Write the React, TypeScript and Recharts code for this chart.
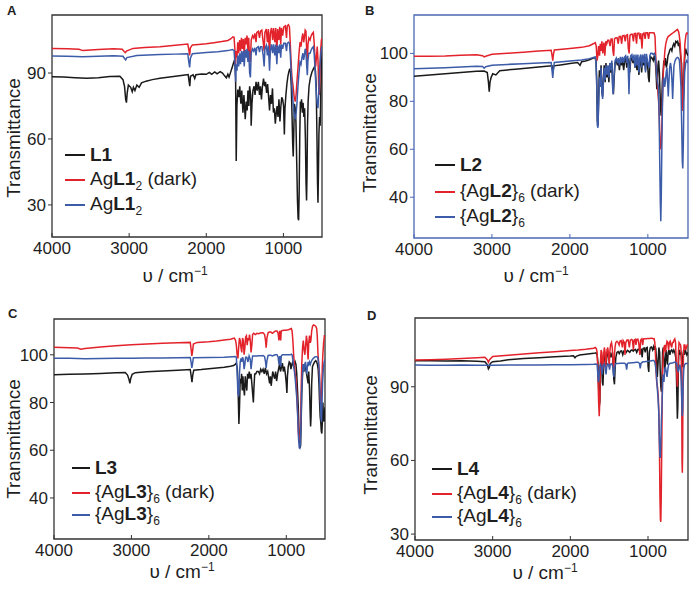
import React from 'react'
import { LineChart, Line, XAxis, YAxis, ReferenceArea } from 'recharts'

type Pt = [number, number]

const X_TICKS = [4000, 3000, 2000, 1000]

// panel A
const L1: Pt[] = [[4000,88.3],[3850,88.2],[3700,87.9],[3550,87.6],[3400,87.8],[3250,88.4],[3120,88.5],[3080,87],[3060,84],[3045,78],[3035,76.5],[3025,81],[3010,84.5],[2980,83.5],[2960,81.5],[2945,83.5],[2925,82],[2900,84.5],[2870,83.5],[2840,85.5],[2780,86.3],[2700,87],[2600,87.6],[2450,88.3],[2300,89],[2235,89.3],[2222,86],[2214,84],[2205,88.5],[2170,89.2],[2150,87.5],[2135,89.2],[2060,89.6],[2000,89.4],[1960,90.3],[1930,89.4],[1890,90.5],[1860,89.6],[1820,90.6],[1790,90],[1760,88.6],[1740,87.8],[1720,89.5],[1705,88.2],[1685,90.3],[1665,92.5],[1645,94.8],[1630,96.3],[1620,88],[1612,50],[1603,75],[1592,82.5],[1578,79],[1566,84],[1552,76],[1540,82],[1525,72],[1512,80],[1495,69],[1482,77],[1470,73],[1460,82],[1448,75],[1438,84],[1425,80],[1418,66],[1408,76],[1395,82],[1380,84],[1368,80],[1355,86],[1340,82],[1325,86],[1310,80],[1298,84],[1285,78],[1272,84],[1258,87.5],[1245,84],[1232,86],[1218,81],[1205,85],[1192,79],[1180,73],[1168,80],[1155,76],[1142,83],[1130,72],[1118,74],[1105,67],[1093,72],[1082,75],[1070,70],[1058,78],[1045,68],[1035,74],[1022,79],[1010,78],[998,75],[988,62],[980,74],[968,80],[955,85],[942,88.5],[930,90.5],[918,92],[908,90.5],[898,84],[888,70],[880,58],[873,52],[866,62],[858,76],[848,74],[838,68],[828,50],[818,32],[810,24],[803,23],[796,36],[788,62],[780,77],[772,74],[765,78],[755,72],[745,76.5],[735,70],[725,74],[715,60],[707,40],[700,32],[694,45],[688,66],[680,77],[668,84],[650,88],[630,90.5],[610,92],[595,93],[585,91],[575,84],[565,60],[558,40],[552,31],[546,45],[540,62],[532,70],[524,66],[516,80],[508,92],[500,100]]
const AgL1dark: Pt[] = [[4000,101.2],[3800,101],[3650,100.8],[3600,100.2],[3550,100.4],[3400,100.7],[3200,101],[3090,100.8],[3065,99.8],[3050,99.3],[3035,100],[2950,101.2],[2800,101.6],[2600,102],[2400,102.6],[2240,103.2],[2226,100.5],[2216,98],[2206,101.5],[2180,102.8],[2100,103],[2000,103.3],[1900,103.8],[1800,104.3],[1720,104.8],[1680,105.6],[1655,106.5],[1640,106.3],[1630,101],[1622,94],[1612,100],[1602,97],[1592,104],[1580,99],[1568,105],[1556,100],[1544,106],[1532,101],[1520,105.5],[1508,98],[1496,106],[1484,103],[1472,107],[1460,100],[1450,106],[1438,96],[1428,95],[1418,105],[1400,107],[1385,106],[1370,108],[1355,104],[1345,108.5],[1325,109],[1310,106],[1298,109],[1280,109.5],[1262,104],[1250,100],[1240,108.5],[1222,110],[1208,104],[1195,110],[1180,97],[1170,108],[1155,110.5],[1140,105],[1128,110.5],[1112,104],[1100,110.5],[1085,99],[1075,110],[1060,105],[1048,111],[1035,103],[1025,110.5],[1010,107],[995,111],[975,111.5],[960,106],[950,111.5],[935,112],[922,111],[912,104],[902,96],[890,88],[875,84],[860,79],[848,77],[836,80],[825,86],[812,92],[798,99],[785,104],[772,102],[760,106],[748,108],[738,104],[728,106],[718,109.5],[708,109],[698,100],[690,95],[682,103],[670,106],[655,105],[640,107],[625,108],[612,108.5],[602,104],[592,98],[582,93],[572,97],[562,102],[552,96],[543,84],[536,80],[528,88],[518,100],[508,105],[500,106]]
const AgL1: Pt[] = [[4000,97.7],[3800,97.6],[3600,97.4],[3400,97.6],[3200,97.9],[3080,97.6],[3060,96.6],[3045,96],[3030,97],[2900,98],[2600,98.4],[2400,98.6],[2240,98.8],[2226,95],[2216,92.6],[2206,96.8],[2180,98.8],[2000,99.3],[1850,99.7],[1720,100.2],[1660,100.7],[1640,100.3],[1630,95],[1620,86],[1612,94],[1602,91],[1592,98],[1580,93],[1568,99],[1556,94],[1544,100],[1532,95],[1520,100],[1508,93],[1496,100.5],[1484,97],[1472,101],[1460,95],[1450,100],[1438,90],[1428,88],[1418,99],[1400,101],[1385,100],[1370,101.5],[1355,98],[1345,101.5],[1325,102],[1310,99.5],[1298,102],[1280,102],[1262,98],[1250,93],[1240,101],[1222,102.5],[1208,98],[1195,102.5],[1180,91],[1170,100],[1155,103],[1140,99],[1128,103],[1112,98],[1100,103],[1085,94],[1075,102.5],[1060,99],[1048,103],[1035,97],[1025,103],[1010,101],[995,103.5],[975,103.5],[960,100],[950,103.5],[935,104],[922,103.5],[912,99],[902,92],[890,84],[878,78],[866,73],[855,70],[845,69],[835,72],[825,76],[812,84],[798,90],[785,95],[772,94],[760,97],[748,99],[738,96],[728,98],[718,101],[708,100],[698,93],[690,89],[682,96],[670,99],[655,99],[640,100.5],[625,101.5],[612,102],[602,99],[592,93],[582,86],[572,80],[562,76],[552,74],[543,80],[536,86],[528,93],[518,98],[508,101],[500,102]]

// panel B
const L2: Pt[] = [[4000,90.5],[3800,91],[3600,91.5],[3400,92],[3200,92.5],[3100,92.6],[3060,92],[3045,88],[3035,84],[3025,88],[3010,90],[2990,91.5],[2950,91],[2900,92.8],[2700,93.4],[2500,94],[2300,94.6],[2230,94.8],[2218,92],[2206,94.8],[2100,95.3],[2000,95.8],[1900,96.2],[1870,95],[1850,96.5],[1800,96.8],[1750,97.3],[1700,98],[1680,98.3],[1665,97],[1655,88],[1648,72],[1640,70],[1632,80],[1622,93],[1610,88],[1600,95],[1590,84],[1580,82],[1570,90],[1560,95],[1548,88],[1538,96],[1525,90],[1512,94],[1500,88],[1488,96],[1475,92],[1462,96],[1450,86],[1442,83],[1432,90],[1420,96],[1405,97],[1390,95],[1378,97],[1365,93],[1352,97.5],[1338,95],[1325,97],[1310,93],[1298,97],[1285,98],[1270,94],[1258,97],[1245,97.5],[1232,92],[1220,97],[1205,98],[1190,96],[1178,98],[1165,94],[1152,98],[1140,93],[1128,97.5],[1115,91],[1105,96],[1092,98],[1080,92],[1068,97.5],[1055,95],[1042,98],[1030,93],[1018,98],[1005,96],[993,90],[983,88],[975,96],[962,98.5],[945,98],[930,97],[918,99],[905,97],[895,92],[885,85],[878,88],[870,95],[862,97],[852,92],[845,85],[838,78],[830,74],[822,80],[814,88],[805,92],[795,97],[785,95],[775,98],[762,94],[752,96],[742,99],[730,100],[718,101.5],[705,102],[692,101],[680,103],[668,104],[655,103],[642,105],[630,104.5],[618,105],[608,103],[598,104.5],[588,102],[578,98],[568,96],[560,88],[553,80],[546,82],[538,90],[528,98],[515,102],[500,100],[485,99]]
const AgL2dark: Pt[] = [[4000,98.8],[3800,98.8],[3600,98.9],[3400,99.2],[3200,99.4],[3120,99],[3100,98.5],[3080,98.8],[3000,99.6],[2800,100],[2600,100.5],[2400,101],[2240,101.3],[2228,99],[2220,97],[2212,99.5],[2200,101.4],[2000,102],[1850,102.5],[1750,103.2],[1700,104],[1675,104.5],[1662,103],[1652,97],[1642,99],[1632,103],[1620,99],[1610,104],[1600,101],[1590,105],[1578,100],[1565,104.5],[1552,99],[1540,105],[1528,104],[1515,105.5],[1500,105.5],[1485,103],[1472,106],[1458,106],[1448,101],[1438,99],[1428,106],[1410,106.5],[1395,106.5],[1380,104],[1368,107],[1350,107],[1336,104],[1325,107.3],[1305,107.5],[1290,105],[1280,107.5],[1262,107.8],[1250,102],[1240,100],[1230,107.5],[1215,108],[1200,108],[1185,105],[1175,108.2],[1160,108.3],[1145,104],[1135,108.3],[1115,108.4],[1100,106],[1090,108.4],[1075,102],[1065,108],[1050,108.5],[1035,106],[1025,108.6],[1005,108.6],[990,106],[980,108.6],[960,108.6],[940,108.6],[920,108.5],[908,107],[898,98],[890,92],[880,90],[872,84],[862,80],[852,72],[845,64],[838,60],[830,61],[822,68],[812,82],[802,92],[792,96],[782,101],[770,104],[755,106],[740,107],[720,107.5],[700,108],[680,108.5],[660,109],[640,109.5],[620,110],[605,109],[595,107],[585,104],[575,98],[565,88],[557,80],[550,76],[543,82],[535,95],[525,104],[510,108],[500,108.5],[485,108]]
const AgL2: Pt[] = [[4000,93.6],[3800,93.8],[3600,94],[3400,94.3],[3200,94.6],[3120,94.5],[3100,93.8],[3080,94.4],[3000,95],[2800,95.4],[2600,95.7],[2400,96],[2240,96.2],[2228,92.5],[2220,89.8],[2212,93],[2200,96.2],[2000,96.8],[1850,97.2],[1750,97.8],[1700,98.3],[1675,98.5],[1665,96],[1655,85],[1648,70],[1640,69],[1632,78],[1622,90],[1610,86],[1600,94],[1590,84],[1580,81],[1570,88],[1560,94],[1548,89],[1538,95],[1525,91],[1512,95],[1500,90],[1488,96],[1475,93],[1462,97],[1452,86],[1445,83],[1435,90],[1420,97],[1405,98],[1390,96],[1378,98],[1365,95],[1352,98.5],[1338,96],[1325,98.5],[1310,96],[1298,98.5],[1285,99],[1270,96],[1258,99],[1248,90],[1242,83],[1235,92],[1220,99],[1205,99.5],[1190,97],[1178,99.5],[1165,94],[1152,99.5],[1140,95],[1128,99.5],[1115,92],[1105,98],[1092,99.5],[1080,94],[1068,99.5],[1055,96],[1042,99.8],[1030,92],[1018,99.8],[1005,97],[993,95],[983,94],[975,99],[962,100],[945,100],[930,99.5],[918,100],[905,99],[895,95],[885,90],[875,88],[865,86],[855,74],[848,55],[840,38],[834,30],[828,40],[820,62],[812,80],[804,88],[795,90],[785,86],[775,88],[765,92],[755,94],[745,87],[738,82],[730,88],[720,94],[710,96],[700,94],[690,88],[682,81],[674,88],[665,95],[650,97],[635,98],[620,98.3],[605,98],[595,97],[585,92],[575,86],[565,68],[558,55],[552,52],[545,62],[538,80],[528,92],[515,96],[500,97],[485,96]]

// panel C
const L3: Pt[] = [[4000,91.6],[3800,91.8],[3600,92],[3400,92.2],[3200,92.5],[3080,92.6],[3050,91.5],[3030,89.5],[3020,88],[3010,90],[2990,91.8],[2950,92.5],[2800,92.9],[2600,93.2],[2400,93.5],[2240,93.8],[2228,91],[2218,88.5],[2208,91.5],[2195,93.5],[2100,93.8],[2000,94.2],[1900,94.5],[1800,94.8],[1720,95.2],[1680,95.5],[1660,96],[1645,96.5],[1632,94],[1622,85],[1612,71],[1604,78],[1595,90],[1585,88],[1577,92],[1568,85],[1560,91],[1550,86],[1540,83],[1530,91],[1520,88],[1510,85],[1500,92],[1490,90],[1478,93],[1465,90],[1455,92],[1445,88],[1435,84],[1425,80],[1418,86],[1408,92],[1395,92],[1380,93],[1360,93],[1345,92],[1330,94],[1315,93],[1300,94],[1285,92],[1270,94.5],[1255,92],[1240,93],[1225,90],[1215,88],[1205,91],[1195,87],[1185,90],[1175,93],[1160,91],[1150,90],[1138,93],[1125,89],[1112,92],[1100,94],[1088,96],[1075,93],[1062,95],[1050,96.5],[1038,93],[1025,95],[1012,92],[1000,88],[992,84],[985,91],[975,95],[962,97],[950,96.5],[940,94],[928,96],[915,97],[905,95],[895,96],[885,97],[875,96],[865,92],[855,85],[845,78],[838,70],[830,65],[822,61],[815,62],[808,72],[800,84],[790,92],[780,96],[770,93],[760,96],[748,94],[738,92],[728,90],[718,88],[710,93],[700,86],[692,76],[686,70],[680,74],[672,88],[662,95],[650,96],[635,97],[620,97.5],[608,97],[598,96],[588,94],[578,88],[570,80],[562,74],[555,72],[548,68],[541,67],[534,72],[527,80],[520,74],[512,72],[505,76],[500,78]]
const AgL3dark: Pt[] = [[4000,103.2],[3800,103],[3700,102.8],[3650,102.3],[3600,102.6],[3400,103.3],[3200,103.8],[3000,104.2],[2800,104.5],[2600,104.8],[2400,105],[2240,105.2],[2228,102],[2220,99.5],[2212,101],[2200,104.5],[2150,105.2],[2000,105.5],[1900,105.8],[1800,106.2],[1720,106.5],[1690,106.8],[1670,107],[1655,106],[1645,104],[1635,100],[1625,98.5],[1615,103],[1605,107],[1595,106],[1585,103],[1575,101],[1565,107],[1555,106],[1545,100],[1535,103],[1525,107.5],[1515,108],[1505,104],[1495,107],[1485,106],[1475,108.5],[1465,106],[1455,101],[1445,104],[1435,108.5],[1420,109],[1400,108.5],[1380,109],[1360,108.8],[1340,109],[1320,109.2],[1300,109.2],[1280,108.5],[1268,106],[1260,103],[1250,107],[1235,109.2],[1220,109.5],[1200,109.5],[1180,109],[1160,109.5],[1140,110],[1120,110],[1105,109],[1095,106],[1085,110],[1072,106],[1065,110],[1050,110.2],[1030,110.3],[1010,110.3],[990,110.4],[970,110.5],[950,110.8],[935,111],[925,110],[915,106],[905,100],[895,96],[885,92],[875,90],[862,82],[852,75],[845,68],[838,65],[830,64],[822,66],[815,72],[808,85],[800,96],[790,103],[780,106],[770,102],[760,100],[750,104],[740,108],[732,106],[725,101],[718,98],[710,105],[700,108],[690,105],[682,106],[672,110],[660,112],[648,112.5],[635,112.3],[620,112],[608,111],[600,108],[590,100],[580,96],[572,92],[565,86],[558,80],[550,79],[542,86],[535,95],[528,100],[518,105],[508,108],[500,108]]
const AgL3: Pt[] = [[4000,98.6],[3800,98.5],[3600,98.3],[3400,98.4],[3200,98.5],[3000,98.6],[2800,98.7],[2600,98.7],[2400,98.8],[2240,98.9],[2228,96.5],[2220,94.5],[2212,96],[2200,98.8],[2000,98.9],[1800,99],[1700,99.2],[1660,99.3],[1645,99],[1635,93],[1625,84],[1615,82.5],[1605,92],[1595,97],[1585,98.5],[1575,97],[1565,99],[1555,98],[1545,94],[1535,96],[1525,99],[1510,99],[1495,97],[1480,99.5],[1465,98],[1455,94],[1445,97],[1435,99.5],[1420,99.5],[1400,99.5],[1380,99.5],[1360,99.6],[1340,99.6],[1320,99.6],[1300,99.7],[1280,99.2],[1268,97],[1260,94.5],[1250,97.5],[1235,99.7],[1220,99.8],[1200,99.8],[1180,99.5],[1160,99.8],[1140,100],[1120,100],[1105,99],[1095,96],[1085,99.5],[1072,95],[1065,99.5],[1050,100],[1030,100],[1010,100],[990,100],[970,100],[950,100],[935,100.3],[925,100],[915,98],[905,95],[895,93],[885,90],[875,86],[865,82],[855,76],[848,70],[840,64],[832,61],[825,60.8],[818,63],[810,72],[802,84],[792,92],[782,96],[772,93],[762,96],[752,97],[742,94],[735,92],[728,95],[718,97],[708,96],[700,97],[690,96],[680,97],[665,98],[650,98.5],[635,99],[620,99.2],[605,99.2],[595,99],[585,97],[575,93],[567,86],[560,80],[552,74],[546,72],[540,78],[532,88],[522,94],[510,97],[500,98]]

// panel D
const L4: Pt[] = [[4000,100.6],[3800,100.6],[3600,100.5],[3400,100.6],[3200,100.4],[3100,100.2],[3070,99],[3055,97.3],[3045,97.8],[3030,99.5],[3000,100.2],[2900,100.5],[2800,101],[2600,101.5],[2400,101.8],[2200,102.2],[2000,102.5],[1960,102.6],[1940,101.8],[1925,102.4],[1880,102.9],[1800,103.2],[1750,103.4],[1700,103.6],[1670,103.8],[1655,103],[1645,100],[1636,90],[1628,82],[1620,84],[1612,98],[1604,103],[1595,100],[1588,92],[1580,90.5],[1572,98],[1562,102],[1550,103],[1540,99],[1530,102],[1520,104],[1510,103],[1500,101],[1490,104],[1478,102],[1468,103],[1458,104],[1448,98],[1440,93],[1432,91],[1424,97],[1414,102],[1400,104],[1385,104.3],[1370,103.5],[1355,104.5],[1340,104.6],[1325,103],[1310,104.6],[1295,104.8],[1280,104],[1265,104.8],[1250,104.5],[1235,104],[1220,104.8],[1205,105],[1190,104.5],[1175,105],[1160,105.2],[1145,104],[1130,105.2],[1115,105.3],[1100,104],[1088,105.5],[1075,102],[1065,105.5],[1050,105.8],[1035,104],[1025,105.8],[1010,106],[998,98],[990,96],[982,104],[970,106],[955,106.2],[940,105],[928,106.3],[918,105],[910,106.5],[900,105.5],[890,101],[880,94],[870,100],[860,106],[850,104],[842,96],[835,90],[828,88],[820,92],[812,104],[805,106],[795,102],[785,96],[776,100],[768,105],[760,102],[750,99],[740,104],[730,105],[718,103],[708,104.5],[695,105],[680,104],[668,105],[655,104],[643,102],[635,96],[628,86],[622,77],[616,82],[610,96],[603,104],[595,105],[585,103],[575,104],[565,100],[558,98],[550,103],[540,105],[530,103],[520,105],[510,104],[500,103],[485,104]]
const AgL4dark: Pt[] = [[4000,100.9],[3800,101],[3600,101.2],[3400,101.5],[3200,101.8],[3100,102],[3070,101],[3055,100],[3040,101],[3000,102.3],[2800,102.8],[2600,103.3],[2400,103.8],[2200,104.3],[2000,104.8],[1900,105],[1800,105.3],[1750,105.5],[1700,105.7],[1680,106],[1665,105.5],[1655,104],[1645,96],[1636,84],[1628,78],[1620,85],[1612,100],[1604,105],[1595,104],[1588,98],[1580,97],[1572,103],[1562,106],[1552,104],[1545,98],[1538,101],[1528,105],[1518,106],[1508,103],[1500,98],[1492,104],[1482,107],[1470,108],[1460,106],[1450,100],[1442,97],[1435,101],[1425,106],[1415,108],[1400,108.5],[1385,108],[1372,107],[1360,108.6],[1345,108.8],[1330,106],[1320,108.8],[1305,108],[1296,103],[1286,108],[1270,109],[1255,109],[1240,106],[1228,109],[1212,109.3],[1200,109],[1188,105],[1178,109],[1165,109.3],[1155,107],[1145,109.3],[1130,109.4],[1120,108],[1105,103],[1095,109],[1080,109.5],[1068,107],[1058,109.5],[1045,109.6],[1032,109.6],[1018,109.6],[1005,109.7],[990,109.7],[975,109.7],[960,109.8],[945,109.8],[932,109.5],[922,109.6],[912,108],[904,103],[896,96],[888,92],[878,90],[868,86],[860,80],[852,64],[846,45],[840,36],[835,35],[830,44],[824,62],[818,82],[812,96],[805,102],[795,106],[785,107],[775,104],[765,107],[755,108.5],[745,108],[735,105],[725,108],[715,108.5],[705,107],[695,106],[685,108],[675,108],[665,109],[655,109.5],[645,108],[635,99],[628,94],[622,90],[616,94],[608,104],[600,108],[590,107.5],[580,107],[572,104],[566,85],[562,60],[558,55],[554,65],[550,88],[544,102],[535,107],[525,107],[515,105],[505,106],[495,107],[485,107]]
const AgL4: Pt[] = [[4000,98.9],[3800,98.8],[3600,98.8],[3400,98.9],[3200,98.8],[3000,98.8],[2800,98.9],[2600,98.9],[2400,98.9],[2200,99],[2000,99],[1800,99.1],[1700,99.2],[1670,99.3],[1655,99],[1648,96],[1640,92],[1632,93],[1624,98],[1612,99],[1600,98],[1592,95],[1585,97],[1575,99],[1560,99.3],[1548,97],[1540,95],[1532,98],[1520,99.3],[1505,99],[1495,97],[1485,99.2],[1470,99.4],[1455,98.5],[1448,96],[1440,94],[1432,97],[1420,99.4],[1400,99.5],[1380,99.5],[1360,99.6],[1340,99.6],[1320,99.6],[1300,99.6],[1285,99],[1275,97],[1265,99.5],[1250,99.7],[1230,99.7],[1210,99.8],[1190,99.8],[1170,99.9],[1150,100],[1130,100],[1110,99.5],[1100,97.5],[1090,99.5],[1075,100],[1060,100.2],[1045,100.2],[1030,100.3],[1015,100.3],[1000,100.4],[985,100.4],[970,100.5],[955,100.6],[940,100.7],[925,100.7],[912,100],[902,98],[892,95],[882,90],[872,86],[862,80],[855,70],[848,62],[842,61],[836,66],[828,76],[820,82],[812,92],[805,95],[795,92],[785,97],[775,98],[765,96],[755,94],[745,97],[735,99],[720,99.5],[705,99.6],[690,99.7],[675,99.8],[660,100],[645,100],[630,99.5],[620,97],[610,96],[600,98],[590,99],[580,97],[572,92],[566,86],[560,78],[554,80],[548,90],[540,97],[530,99],[515,99.5],[500,99.5],[485,99.5]]

const BLACK = '#1a1a1a'
const RED = '#e3232b'
const BLUE = '#3c5ba8'
const INK = '#1e1e1e'
const FONT = '"Liberation Sans", Arial, sans-serif'

const pts = (a: Pt[]) => a.map(([w, t]) => ({ w, t }))

type PanelProps = {
  letter: string
  box: { left: number; top: number; w: number; h: number }
  plot: { l: number; t: number; r: number; b: number }
  yDomain: [number, number]
  yTicks: number[]
  xMin: number
  frame: string
  series: { data: Pt[]; color: string; label: React.ReactNode }[]
  letterPos: [number, number]
  yLabel: [number, number]
  xLabel: [number, number]
  legend: { lineX: number; lineW: number; textX: number; rows: number[] }
}

function Panel(p: PanelProps) {
  const X_AXIS_H = 30
  const margin = {
    top: p.plot.t - p.box.top,
    right: p.box.left + p.box.w - p.plot.r,
    bottom: p.box.top + p.box.h - p.plot.b - X_AXIS_H,
    left: 0,
  }
  const tick = { fill: INK, fontSize: 17, fontFamily: FONT }
  return (
    <>
      <div style={{ position: 'absolute', left: p.box.left, top: p.box.top }}>
        <LineChart width={p.box.w} height={p.box.h} margin={margin}>
          <XAxis dataKey="w" type="number" domain={[p.xMin, 4000]} reversed allowDataOverflow ticks={X_TICKS}
            height={X_AXIS_H} axisLine={false} tickSize={-4} tickMargin={9} tickLine={{ stroke: p.frame }} tick={tick} />
          <YAxis type="number" domain={p.yDomain} allowDataOverflow ticks={p.yTicks} width={p.plot.l - p.box.left}
            axisLine={false} tickSize={4} tickMargin={2} tickLine={{ stroke: p.frame }} tick={tick} />
          {p.series.map((s, i) => (
            <Line key={i} data={pts(s.data)} dataKey="t" type="linear" stroke={s.color} strokeWidth={1.5}
              dot={false} activeDot={false} isAnimationActive={false} />
          ))}
          <ReferenceArea x1={p.xMin} x2={4000} y1={p.yDomain[0]} y2={p.yDomain[1]} fill="none" fillOpacity={0}
            stroke={p.frame} strokeWidth={1.3} />
        </LineChart>
      </div>
      <div style={{ position: 'absolute', left: p.letterPos[0], top: p.letterPos[1], fontWeight: 700, fontSize: 13, lineHeight: '13px' }}>
        {p.letter}
      </div>
      <div style={{ position: 'absolute', left: p.yLabel[0], top: p.yLabel[1], transform: 'translate(-50%, -50%) rotate(-90deg)', fontSize: 19, lineHeight: '19px', whiteSpace: 'nowrap' }}>
        Transmittance
      </div>
      <div style={{ position: 'absolute', left: p.xLabel[0], top: p.xLabel[1], transform: 'translate(-50%, -50%)', fontSize: 19, lineHeight: '16px', whiteSpace: 'nowrap' }}>
        υ / cm<sup style={{ fontSize: 12, lineHeight: 0 }}>−1</sup>
      </div>
      {p.series.map((s, i) => (
        <div key={i} style={{ position: 'absolute', left: p.legend.lineX, top: p.legend.rows[i] - 12, height: 24, display: 'flex', alignItems: 'center', fontSize: 19, whiteSpace: 'nowrap' }}>
          <span style={{ display: 'inline-block', width: p.legend.lineW, height: 1.6, background: s.color, marginRight: p.legend.textX - p.legend.lineX - p.legend.lineW }} />
          <span>{s.label}</span>
        </div>
      ))}
    </>
  )
}

const sub = (n: string) => <sub style={{ fontSize: 12 }}>{n}</sub>

export default function App() {
  return (
    <div style={{ position: 'absolute', left: 0, top: 0, width: 691, height: 590, background: '#fff', fontFamily: FONT, color: INK, overflow: 'hidden' }}>
      <Panel letter="A" box={{ left: 0, top: 0, w: 345, h: 295 }} plot={{ l: 52, t: 15, r: 322, b: 237 }}
        yDomain={[15.4, 116.4]} yTicks={[30, 60, 90]} xMin={500} frame="#333"
        series={[
          { data: L1, color: BLACK, label: <b>L1</b> },
          { data: AgL1dark, color: RED, label: <>Ag<b>L1</b>{sub('2')} (dark)</> },
          { data: AgL1, color: BLUE, label: <>Ag<b>L1</b>{sub('2')}</> },
        ]}
        letterPos={[7, 4]} yLabel={[13, 138]} xLabel={[175, 276]}
        legend={{ lineX: 65, lineW: 20, textX: 90, rows: [155, 180, 205] }} />
      <Panel letter="B" box={{ left: 345, top: 0, w: 346, h: 295 }} plot={{ l: 414, t: 15, r: 688, b: 238 }}
        yDomain={[23, 116]} yTicks={[40, 60, 80, 100]} xMin={485} frame="#4a68b2"
        series={[
          { data: L2, color: BLACK, label: <b>L2</b> },
          { data: AgL2dark, color: RED, label: <>{'{'}Ag<b>L2</b>{'}'}{sub('6')} (dark)</> },
          { data: AgL2, color: BLUE, label: <>{'{'}Ag<b>L2</b>{'}'}{sub('6')}</> },
        ]}
        letterPos={[365, 4]} yLabel={[369, 133]} xLabel={[536, 276]}
        legend={{ lineX: 435, lineW: 20, textX: 460, rows: [165, 192, 217] }} />
      <Panel letter="C" box={{ left: 0, top: 295, w: 345, h: 295 }} plot={{ l: 54, t: 319, r: 325, b: 539 }}
        yDomain={[22.8, 115]} yTicks={[40, 60, 80, 100]} xMin={500} frame="#333"
        series={[
          { data: L3, color: BLACK, label: <b>L3</b> },
          { data: AgL3dark, color: RED, label: <>{'{'}Ag<b>L3</b>{'}'}{sub('6')} (dark)</> },
          { data: AgL3, color: BLUE, label: <>{'{'}Ag<b>L3</b>{'}'}{sub('6')}</> },
        ]}
        letterPos={[8, 307]} yLabel={[13, 439]} xLabel={[182, 572]}
        legend={{ lineX: 72, lineW: 18, textX: 95, rows: [468, 493, 515] }} />
      <Panel letter="D" box={{ left: 345, top: 295, w: 346, h: 295 }} plot={{ l: 415, t: 318, r: 688, b: 540 }}
        yDomain={[27.6, 118]} yTicks={[30, 60, 90]} xMin={485} frame="#333"
        series={[
          { data: L4, color: BLACK, label: <b>L4</b> },
          { data: AgL4dark, color: RED, label: <>{'{'}Ag<b>L4</b>{'}'}{sub('6')} (dark)</> },
          { data: AgL4, color: BLUE, label: <>{'{'}Ag<b>L4</b>{'}'}{sub('6')}</> },
        ]}
        letterPos={[367, 309]} yLabel={[370, 435]} xLabel={[545, 573]}
        legend={{ lineX: 432, lineW: 20, textX: 457, rows: [469, 494, 517] }} />
    </div>
  )
}
